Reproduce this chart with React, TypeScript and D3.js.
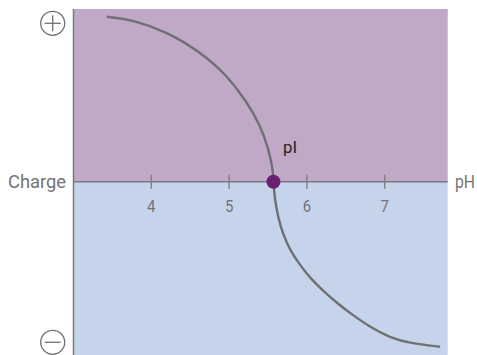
import React from "react";
import * as d3 from "d3";

// charge curve (pH, net charge)
const upperPH = [3.427, 3.769, 4.198, 4.626, 4.969, 5.226, 5.397, 5.504, 5.561, 5.57];
const upperCharge = [1.0, 0.98, 0.909, 0.788, 0.647, 0.486, 0.345, 0.204, 0.081, 0];
const lowerPH = [5.57, 5.584, 5.628, 5.692, 5.782, 5.911, 6.04, 6.207, 6.425, 6.554, 6.811, 7.068, 7.325, 7.711];
const lowerCharge = [0, -0.093, -0.214, -0.317, -0.414, -0.505, -0.583, -0.662, -0.75, -0.796, -0.881, -0.945, -0.979, -1.0];
const pI = 5.57;
const phTicks = [4, 5, 6, 7];

const W = 477;
const H = 355;
const font = "Roboto, 'Liberation Sans', sans-serif";

const App = () => {
  const x = d3.scaleLinear().domain([3, 7]).range([73.5, 384.7]);
  const y = d3.scaleLinear().domain([-1, 1]).range([346.7, 16.7]);

  const xMax = 7.81;
  const yTop = y.invert(9);
  const yBot = y.invert(H);

  const toPts = (ph: number[], ch: number[]) => ph.map((p, i) => [p, ch[i]] as [number, number]);

  const line = d3
    .line<[number, number]>()
    .x((d) => x(d[0]))
    .y((d) => y(d[1]))
    .curve(d3.curveBasis);

  const gray = "#6f7073";
  const textGray = "#737376";

  return (
    <svg width={W} height={H} style={{ position: "absolute", left: 0, top: 0 }}>
      <rect x={x(3)} y={y(yTop)} width={x(xMax) - x(3)} height={y(0) - y(yTop)} fill="#bfa9c7" />
      <rect x={x(3)} y={y(0)} width={x(xMax) - x(3)} height={y(yBot) - y(0)} fill="#c5d3eb" />
      <line x1={x(3)} x2={x(3)} y1={y(yTop)} y2={H} stroke="#7a7a7c" strokeWidth={1.5} />
      <line x1={x(3)} x2={x(xMax)} y1={y(0)} y2={y(0)} stroke="#7a7a7c" strokeWidth={1.5} />
      {phTicks.map((t) => (
        <g key={t}>
          <line x1={x(t)} x2={x(t)} y1={y(0) - 7} y2={y(0) + 7} stroke="#7a7a7c" strokeWidth={1.3} />
          <text
            x={x(t)}
            y={y(0) + 30}
            textAnchor="middle"
            fontFamily={font}
            fontSize={17}
            fill={textGray}
            transform={`translate(${x(t)},0) scale(0.88,1) translate(${-x(t)},0)`}
          >
            {t}
          </text>
        </g>
      ))}
      <path
        d={(line(toPts(upperPH, upperCharge)) || "") + (line(toPts(lowerPH, lowerCharge)) || "")}
        fill="none"
        stroke={gray}
        strokeWidth={2.4}
      />
      <circle cx={x(pI)} cy={y(0)} r={7} fill="#6b1f6f" />
      <text x={283} y={153} fontFamily={font} fontSize={17} fill="#231f20" textLength={14} lengthAdjust="spacingAndGlyphs">
        pI
      </text>
      <text x={8} y={y(0) + 6.5} fontFamily={font} fontSize={18} fill={textGray} textLength={58} lengthAdjust="spacingAndGlyphs">
        Charge
      </text>
      <text x={455} y={y(0) + 6.5} fontFamily={font} fontSize={18} fill={textGray} textLength={20} lengthAdjust="spacingAndGlyphs">
        pH
      </text>
      <g stroke={gray} strokeWidth={1.3} fill="none">
        <circle cx={52.7} cy={23.3} r={12} />
        <line x1={44.7} x2={60.7} y1={23.3} y2={23.3} />
        <line x1={52.7} x2={52.7} y1={15.3} y2={31.3} />
        <circle cx={52.7} cy={342.3} r={12} />
        <line x1={44.7} x2={60.7} y1={342.3} y2={342.3} />
      </g>
    </svg>
  );
};

export default App;
